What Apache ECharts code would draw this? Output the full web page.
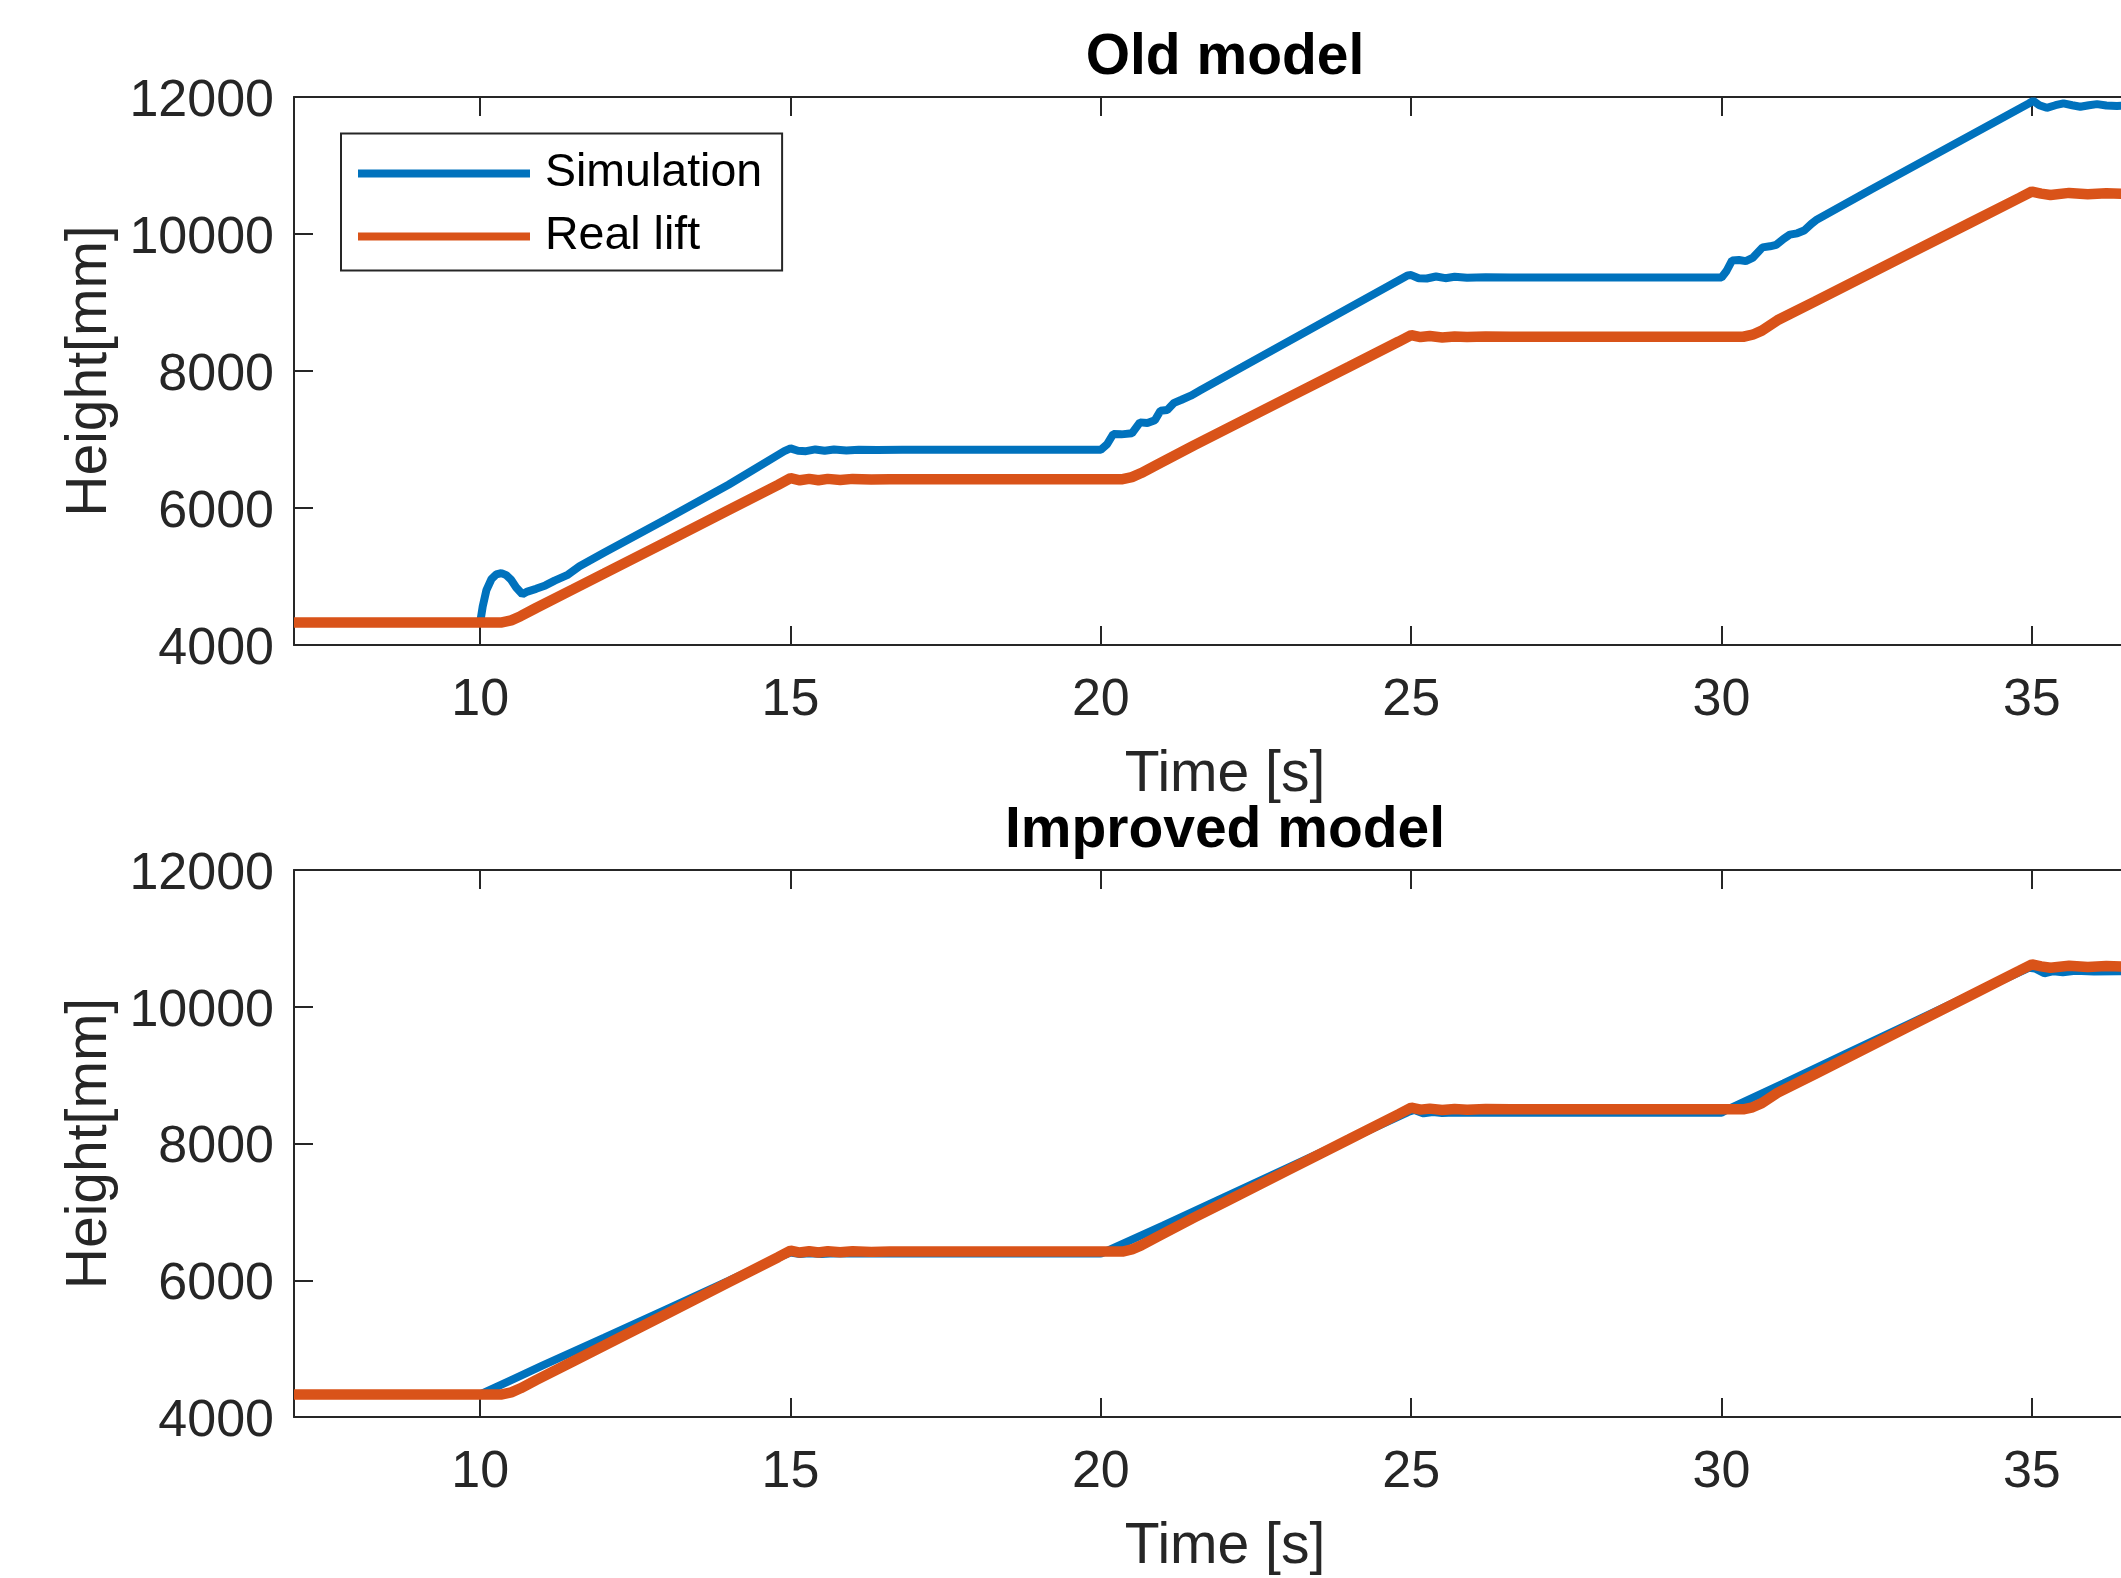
<!DOCTYPE html>
<html>
<head>
<meta charset="utf-8">
<script src="https://cdn.jsdelivr.net/npm/echarts@6/dist/echarts.min.js"></script>
<style>
html,body{margin:0;padding:0;background:#fff;}
#chart{width:2121px;height:1578px;}
</style>
</head>
<body>
<div id="chart"></div>
<script>
// ---- data ----
var xTicks = [10, 15, 20, 25, 30, 35];
var yTicks = [4000, 6000, 8000, 10000, 12000];
var panelTitles = ['Old model', 'Improved model'];
var seriesNames = ['Simulation', 'Real lift'];

// Real lift (measured), same in both panels
var realT = [7, 10.35, 10.5, 10.65, 10.9, 11.5, 12, 13, 14, 14.8, 15, 15.15, 15.3, 15.45, 15.6, 15.8, 16.0, 16.3, 16.6, 17,
             20.35, 20.5, 20.65, 20.9, 21.5, 22, 23, 24, 24.8, 25, 25.15, 25.3, 25.5, 25.7, 25.9, 26.2, 26.6, 27,
             30.35, 30.5, 30.65, 30.9, 31.5, 32, 33, 34, 34.8, 35, 35.15, 35.3, 35.6, 35.9, 36.2, 36.6, 37];
var realH = [4330, 4330, 4360, 4420, 4540, 4815, 5045, 5506, 5968, 6337, 6435, 6405, 6425, 6405, 6425, 6410, 6425, 6415, 6420, 6420,
             6420, 6450, 6510, 6630, 6915, 7145, 7604, 8062, 8430, 8525, 8495, 8510, 8490, 8505, 8495, 8505, 8500, 8500,
             8500, 8530, 8590, 8740, 9013, 9243, 9702, 10161, 10528, 10620, 10590, 10570, 10600, 10580, 10595, 10585, 10590];

// Old model simulation
var oldSimT = [7, 10.0, 10.04, 10.1, 10.18, 10.26, 10.34, 10.42, 10.5, 10.58, 10.68, 10.76, 10.9, 11.05, 11.2, 11.4, 11.6, 12, 13, 14, 14.9,
               15.0, 15.12, 15.25, 15.4, 15.55, 15.7, 15.9, 16.1, 16.4, 16.8, 17.3,
               20.0, 20.1, 20.2, 20.33, 20.5, 20.63, 20.75, 20.87, 20.96, 21.07, 21.18, 21.3, 21.45, 21.61, 22.27, 23.47, 24.94,
               25.0, 25.12, 25.25, 25.4, 25.55, 25.7, 25.9, 26.2, 26.6, 27.2,
               30.0, 30.08, 30.17, 30.28, 30.39, 30.5, 30.66, 30.78, 30.88, 31.0, 31.1, 31.22, 31.33, 31.45, 31.54, 32.41, 34.95,
               35.02, 35.12, 35.24, 35.38, 35.51, 35.65, 35.78, 35.92, 36.05, 36.2, 36.37, 36.6, 37];
var oldSimH = [4330, 4330, 4560, 4800, 4960, 5030, 5050, 5020, 4950, 4840, 4740, 4780, 4820, 4870, 4940, 5020, 5150, 5350, 5840, 6340, 6830,
               6870, 6835, 6830, 6855, 6835, 6855, 6840, 6852, 6845, 6850, 6850,
               6850, 6930, 7080, 7075, 7090, 7250, 7240, 7280, 7420, 7430, 7535, 7580, 7640, 7721, 8053, 8657, 9395,
               9400, 9355, 9350, 9380, 9355, 9375, 9360, 9370, 9365, 9365,
               9365, 9460, 9615, 9620, 9604, 9650, 9805, 9820, 9842, 9930, 9990, 10010, 10050, 10150, 10213, 10650, 11905,
               11944, 11880, 11842, 11880, 11907, 11880, 11857, 11880, 11896, 11875, 11867, 11880, 11880];

// Improved model simulation
var newSimT = [7, 10.0, 10.5, 11, 12, 13, 14, 14.9, 15.0, 15.15, 15.3, 15.5, 15.7, 16, 16.5, 17,
               20.0, 20.1, 21, 22, 23, 24, 24.95, 25.05, 25.2, 25.35, 25.5, 25.7, 26, 26.5, 27,
               30.0, 30.1, 31, 32, 33, 34, 34.95, 35.05, 35.2, 35.35, 35.5, 35.7, 36, 36.4, 37];
var newSimH = [4330, 4330, 4540, 4750, 5160, 5575, 5990, 6370, 6405, 6385, 6395, 6385, 6395, 6390, 6390, 6390,
               6390, 6430, 6800, 7220, 7640, 8060, 8460, 8490, 8440, 8460, 8445, 8455, 8450, 8450, 8450,
               8450, 8500, 8880, 9310, 9740, 10170, 10570, 10560, 10490, 10520, 10505, 10525, 10515, 10520, 10520];

function zip(t, h) { var out = []; for (var i = 0; i < t.length; i++) out.push([t[i], h[i]]); return out; }

var FONT = '"Liberation Sans", Arial, Helvetica, sans-serif';
var AX = '#262626';
var BLUE = '#0072BD', ORANGE = '#D95319';

var grids = [
  {left: 294, top: 97, width: 1862, height: 548, outerBoundsMode: 'none', containLabel: false},
  {left: 294, top: 870, width: 1862, height: 547, outerBoundsMode: 'none', containLabel: false}
];

var xAxes = [], yAxes = [];
grids.forEach(function (g, i) {
  xAxes.push({
    gridIndex: i, type: 'value', min: 7, max: 37, position: 'bottom',
    axisLine: {show: true, onZero: false, lineStyle: {color: AX, width: 2}},
    axisTick: {show: true, inside: true, length: 19, customValues: xTicks, lineStyle: {color: AX, width: 2}},
    axisLabel: {show: true, customValues: xTicks, fontSize: 52, color: AX, fontFamily: FONT, margin: 30,
                formatter: function (v) { return String(v); }},
    splitLine: {show: false},
    name: 'Time [s]', nameLocation: 'middle', nameGap: 102, nameMoveOverlap: false,
    nameTextStyle: {fontSize: 57, color: AX, fontFamily: FONT}
  });
  xAxes.push({
    gridIndex: i, type: 'value', min: 7, max: 37, position: 'top',
    axisLine: {show: true, onZero: false, lineStyle: {color: AX, width: 2}},
    axisTick: {show: true, inside: true, length: 19, customValues: xTicks, lineStyle: {color: AX, width: 2}},
    axisLabel: {show: false},
    splitLine: {show: false}
  });
  yAxes.push({
    gridIndex: i, type: 'value', min: 4000, max: 12000, interval: 2000, position: 'left',
    axisLine: {show: true, onZero: false, lineStyle: {color: AX, width: 2}},
    axisTick: {show: true, inside: true, length: 19, customValues: yTicks, lineStyle: {color: AX, width: 2}},
    axisLabel: {show: true, customValues: yTicks, fontSize: 52, color: AX, fontFamily: FONT, margin: 20,
                verticalAlign: 'top', lineHeight: 9,
                formatter: function (v) { return String(v); }},
    splitLine: {show: false},
    name: 'Height[mm]', nameLocation: 'middle', nameGap: 175, nameRotate: 90, nameMoveOverlap: false,
    nameTextStyle: {fontSize: 57, color: AX, fontFamily: FONT}
  });
});

function lineSeries(name, data, xi, yi, color, w) {
  return {
    name: name, type: 'line', xAxisIndex: xi, yAxisIndex: yi, data: data,
    showSymbol: false, symbol: 'none', smooth: false,
    lineStyle: {color: color, width: w}, itemStyle: {color: color},
    silent: true, clip: true
  };
}

var option = {
  animation: false,
  backgroundColor: '#fff',
  title: [
    {text: panelTitles[0], left: 1220, top: 25, textAlign: 'center',
     textStyle: {fontSize: 57, fontWeight: 'bold', color: '#000', fontFamily: FONT}},
    {text: panelTitles[1], left: 1220, top: 798, textAlign: 'center',
     textStyle: {fontSize: 57, fontWeight: 'bold', color: '#000', fontFamily: FONT}}
  ],
  legend: {
    show: true, orient: 'vertical', left: 341, top: 133.5,
    data: seriesNames, icon: 'rect', itemWidth: 172, itemHeight: 8, itemGap: 9,
    padding: [13, 20, 7, 17], borderColor: AX, borderWidth: 2, backgroundColor: '#fff',
    textStyle: {fontSize: 46.5, color: '#000', fontFamily: FONT, lineHeight: 51, padding: [3, 0, 0, 10]}
  },
  grid: grids,
  xAxis: xAxes,
  yAxis: yAxes,
  series: [
    lineSeries(seriesNames[0], zip(oldSimT, oldSimH), 0, 0, BLUE, 8),
    lineSeries(seriesNames[1], zip(realT, realH), 0, 0, ORANGE, 10.5),
    lineSeries(seriesNames[0], zip(newSimT, newSimH), 2, 1, BLUE, 8),
    lineSeries(seriesNames[1], zip(realT, realH), 2, 1, ORANGE, 10.5)
  ]
};

var chart = echarts.init(document.getElementById('chart'), null, {renderer: 'canvas'});
chart.setOption(option);
</script>
</body>
</html>
